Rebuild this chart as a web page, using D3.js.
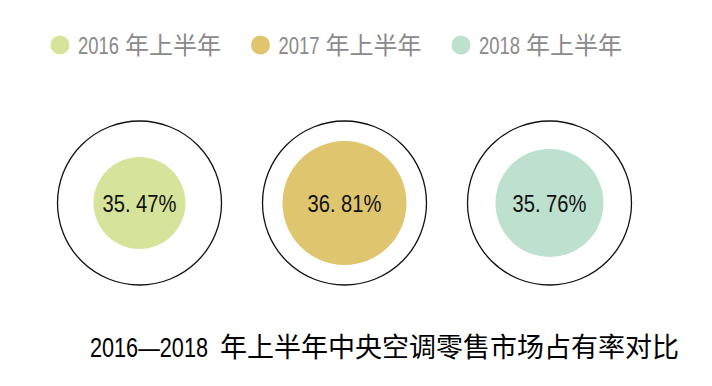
<!DOCTYPE html>
<meta charset="utf-8">
<style>
body { margin: 0; background: #fff; }
text { font-family: "Noto Sans CJK SC", sans-serif; }
.lat { font-family: "Liberation Sans", sans-serif; }
.legend text { fill: #8a8a8a; font-size: 24px; }
.ring { fill: none; stroke: #111; stroke-width: 1.3px; }
.pct { fill: #111; font-size: 24px; font-family: "Liberation Sans", sans-serif; }
.title { fill: #000; font-size: 27px; }
</style>
<svg width="712" height="386"></svg>
<script src="https://cdnjs.cloudflare.com/ajax/libs/d3/7.8.5/d3.min.js"></script>
<script>
var years = ["2016", "2017", "2018"];
var suffix = "年上半年";
var shares = [35.47, 36.81, 35.76];
var colors = ["#d6e39b", "#e0c56f", "#bde0cf"];
var titleRange = "2016—2018";
var titleText = "年上半年中央空调零售市场占有率对比";

var svg = d3.select("svg");

var data = years.map(function(y, i) {
  return {year: y, value: shares[i], color: colors[i]};
});

// inner circle grows with the rank of the share
var sorted = shares.slice().sort(d3.ascending);
data.forEach(function(d) { d.rank = sorted.indexOf(d.value); });

var x = d3.scalePoint().domain(years).range([139.5, 549.5]);
var lx = d3.scalePoint().domain(years).range([60, 461]);
var r = d3.scaleLinear().domain([0, 2]).range([46, 62]);
var fmt = d3.format(".2f");
var cy = 203;

// squeeze latin text horizontally to a given width (source font is narrow)
function squeeze(sel, x0, y0, w) {
  sel.each(function() {
    var k = w / this.getComputedTextLength();
    d3.select(this).attr("transform", "translate(" + x0 + "," + y0 + ") scale(" + k + ",1)");
  });
}

// legend
var legend = svg.append("g").attr("class", "legend")
  .selectAll("g")
  .data(data)
  .enter().append("g")
    .attr("transform", function(d) { return "translate(" + lx(d.year) + ",45)"; });
legend.append("circle")
    .attr("r", 9.5)
    .attr("fill", function(d) { return d.color; });
legend.append("text")
    .attr("class", "lat")
    .attr("dy", "0.36em")
    .text(function(d) { return d.year; })
    .call(squeeze, 18, 0, 41);
legend.append("text")
    .attr("x", 65)
    .attr("dy", "0.36em")
    .text(suffix);

// rings
var g = svg.selectAll(".item")
  .data(data)
  .enter().append("g")
    .attr("class", "item")
    .attr("transform", function(d) { return "translate(" + x(d.year) + "," + cy + ")"; });
g.append("circle")
    .attr("class", "ring")
    .attr("r", 82);
g.append("circle")
    .attr("r", function(d) { return r(d.rank); })
    .attr("fill", function(d) { return d.color; });
g.append("text")
    .attr("class", "pct")
    .attr("dy", "0.36em")
    .text(function(d) { return fmt(d.value).replace(".", ". ") + "%"; })
    .call(squeeze, -37, 0, 74);

// title
svg.append("text")
    .attr("class", "title lat")
    .text(titleRange)
    .call(squeeze, 90, 357, 118);
svg.append("text")
    .attr("class", "title")
    .attr("x", 220)
    .attr("y", 357)
    .text(titleText);
</script>
